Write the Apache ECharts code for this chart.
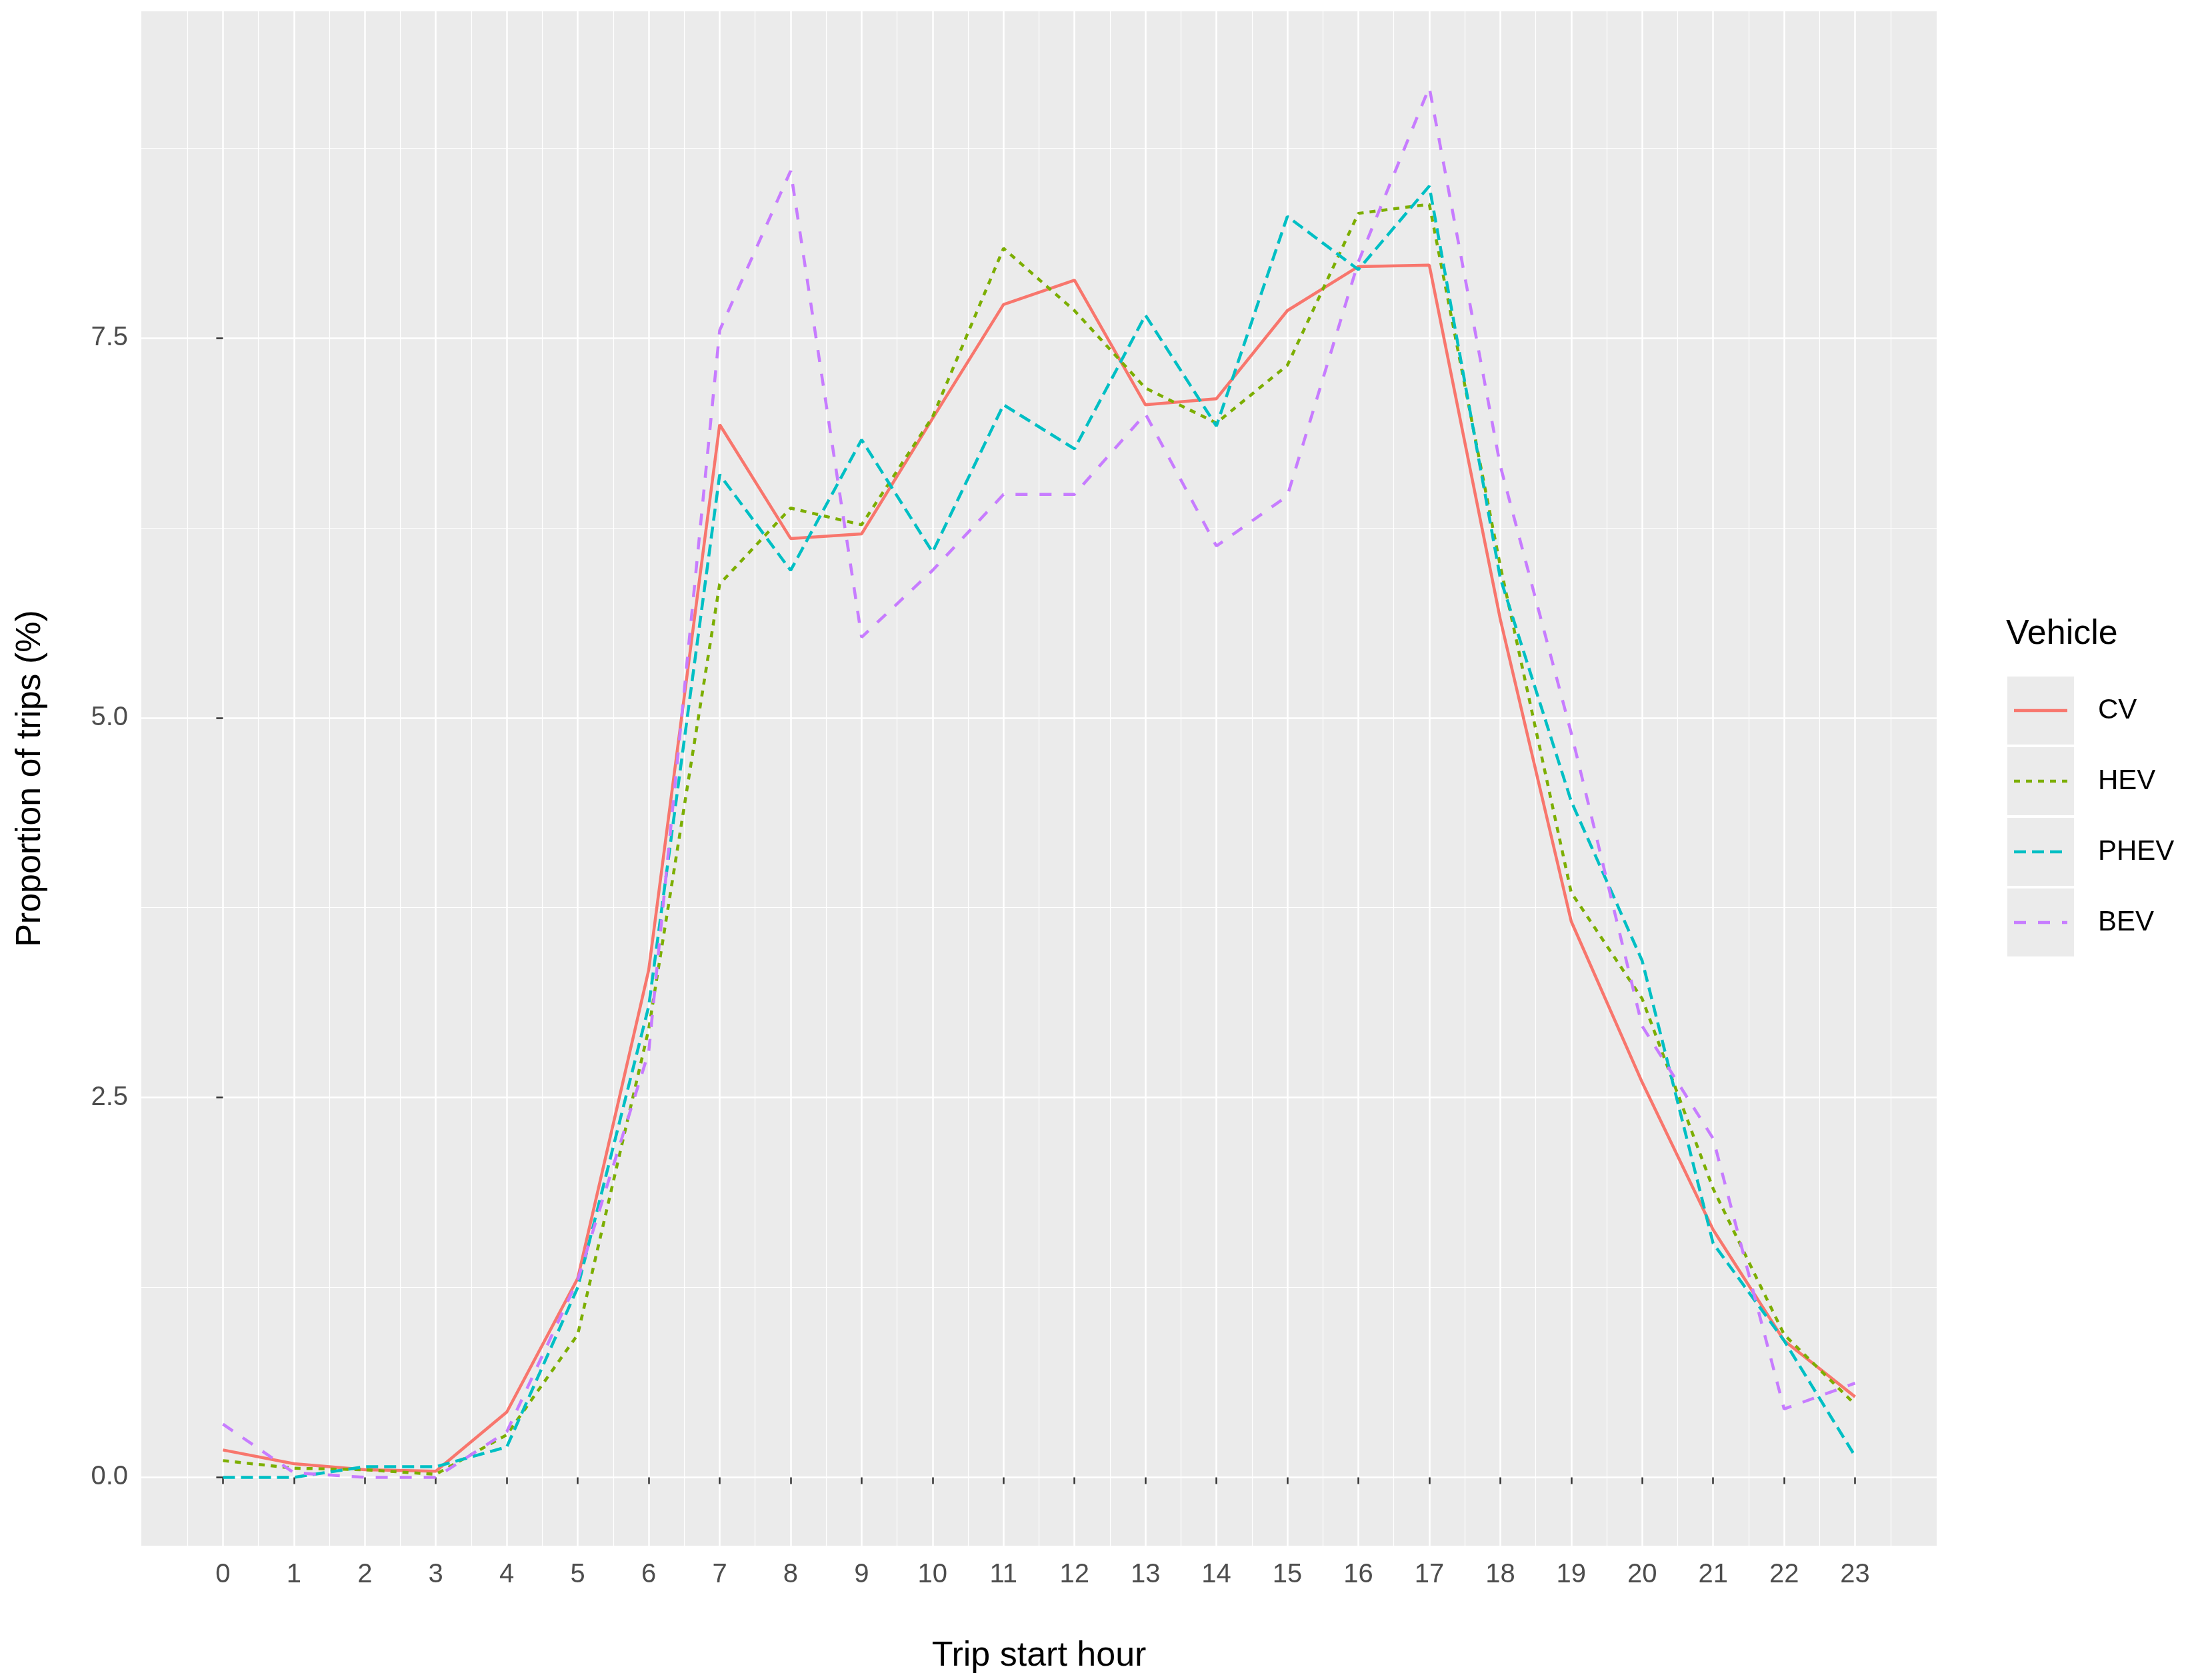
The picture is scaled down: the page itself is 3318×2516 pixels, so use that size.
<!DOCTYPE html>
<html>
<head>
<meta charset="utf-8">
<script src="https://cdn.jsdelivr.net/npm/echarts@6/dist/echarts.min.js"></script>
<style>html,body{margin:0;padding:0;background:#fff}#c{width:3318px;height:2516px}</style>
</head>
<body>
<div id="c"></div>
<script>
var hours = [0,1,2,3,4,5,6,7,8,9,10,11,12,13,14,15,16,17,18,19,20,21,22,23];
var cv   = [0.18,0.09,0.05,0.04,0.43,1.31,3.34,6.93,6.18,6.21,6.97,7.72,7.88,7.06,7.10,7.68,7.97,7.98,5.65,3.66,2.60,1.63,0.90,0.53];
var hev  = [0.11,0.06,0.05,0.02,0.28,0.94,2.95,5.88,6.38,6.27,6.98,8.09,7.68,7.17,6.94,7.32,8.32,8.38,6.00,3.85,3.15,1.90,0.94,0.48];
var phev = [0.00,0.00,0.07,0.07,0.20,1.25,3.10,6.60,5.97,6.83,6.09,7.06,6.77,7.65,6.92,8.30,7.95,8.50,5.92,4.45,3.40,1.54,0.90,0.14];
var bev  = [0.35,0.03,0.00,0.00,0.30,1.30,2.80,7.55,8.60,5.53,5.97,6.47,6.47,7.00,6.13,6.46,8.00,9.15,6.66,4.90,2.97,2.23,0.45,0.62];
var yTicks = [0, 2.5, 5, 7.5];
var yMinor = [1.25, 3.75, 6.25, 8.75];
var xMinor = [-0.5,0.5,1.5,2.5,3.5,4.5,5.5,6.5,7.5,8.5,9.5,10.5,11.5,12.5,13.5,14.5,15.5,16.5,17.5,18.5,19.5,20.5,21.5,22.5,23.5];
var names = ['CV','HEV','PHEV','BEV'];
var colors = ['#F8766D','#7CAE00','#00BFC4','#C77CFF'];
var dashes = ['solid',[9,9],[18,9],[18,18]];
var values = [cv, hev, phev, bev];

var chart = echarts.init(document.getElementById('c'));
var font = 'Liberation Sans, Arial, sans-serif';
var series = [];
var graphics = [];
for (var i = 0; i < names.length; i++) {
	series.push({
		name: names[i],
		type: 'line',
		symbol: 'none',
		data: hours.map(function (h, j) { return [h, values[i][j]]; }),
		lineStyle: { color: colors[i], width: 4.5, type: dashes[i] },
		itemStyle: { color: colors[i] },
		z: 3 + i
	});
	// legend key
	var cy = 1066 + i * 106;
	graphics.push({ type: 'rect', shape: { x: 3011, y: cy - 51, width: 100, height: 102 }, style: { fill: '#EBEBEB' } });
	graphics.push({ type: 'line', shape: { x1: 3021, y1: cy, x2: 3101, y2: cy },
		style: { stroke: colors[i], lineWidth: 4.5, lineDash: dashes[i] === 'solid' ? null : dashes[i] } });
	graphics.push({ type: 'text', x: 3147, y: cy, style: { text: names[i], fontSize: 42, fill: '#000', fontFamily: font, textVerticalAlign: 'middle' } });
}
graphics.push({ type: 'text', x: 3009, y: 952, style: { text: 'Vehicle', fontSize: 52, fill: '#000', fontFamily: font, textVerticalAlign: 'middle' } });

var option = {
	animation: false,
	backgroundColor: '#fff',
	grid: { left: 212, top: 17, width: 2693, height: 2306, show: true, backgroundColor: '#EBEBEB', borderWidth: 0 },
	graphic: graphics,
	xAxis: [
		{
			type: 'value', min: -1.15, max: 24.15,
			name: 'Trip start hour', nameLocation: 'middle', nameGap: 140,
			nameTextStyle: { fontSize: 52, color: '#000', fontFamily: font },
			axisLine: { show: false },
			axisTick: { show: true, customValues: hours, length: 10, lineStyle: { color: '#333', width: 2.5 } },
			axisLabel: { customValues: hours, fontSize: 40, color: '#4D4D4D', margin: 24, fontFamily: font },
			splitLine: { show: true, lineStyle: { color: '#fff', width: 2.5 } }
		},
		{
			type: 'value', min: -1.15, max: 24.15, position: 'bottom',
			axisLine: { show: false },
			axisTick: { show: false, customValues: xMinor },
			axisLabel: { show: false, customValues: xMinor },
			splitLine: { show: true, lineStyle: { color: '#fff', width: 1.2 } }
		}
	],
	yAxis: [
		{
			type: 'value', min: -0.45, max: 9.65,
			name: 'Proportion of trips (%)', nameLocation: 'middle', nameGap: 140, nameRotate: 90,
			nameTextStyle: { fontSize: 52, color: '#000', fontFamily: font },
			axisLine: { show: false },
			axisTick: { show: true, customValues: yTicks, length: 10, lineStyle: { color: '#333', width: 2.5 } },
			axisLabel: { customValues: yTicks, fontSize: 40, color: '#4D4D4D', margin: 20, fontFamily: font,
				formatter: function (v) { return v.toFixed(1); } },
			splitLine: { show: true, lineStyle: { color: '#fff', width: 2.5 } }
		},
		{
			type: 'value', min: -0.45, max: 9.65, position: 'left',
			axisLine: { show: false },
			axisTick: { show: false, customValues: yMinor },
			axisLabel: { show: false, customValues: yMinor },
			splitLine: { show: true, lineStyle: { color: '#fff', width: 1.2 } }
		}
	],
	series: series
};
chart.setOption(option);
</script>
</body>
</html>
